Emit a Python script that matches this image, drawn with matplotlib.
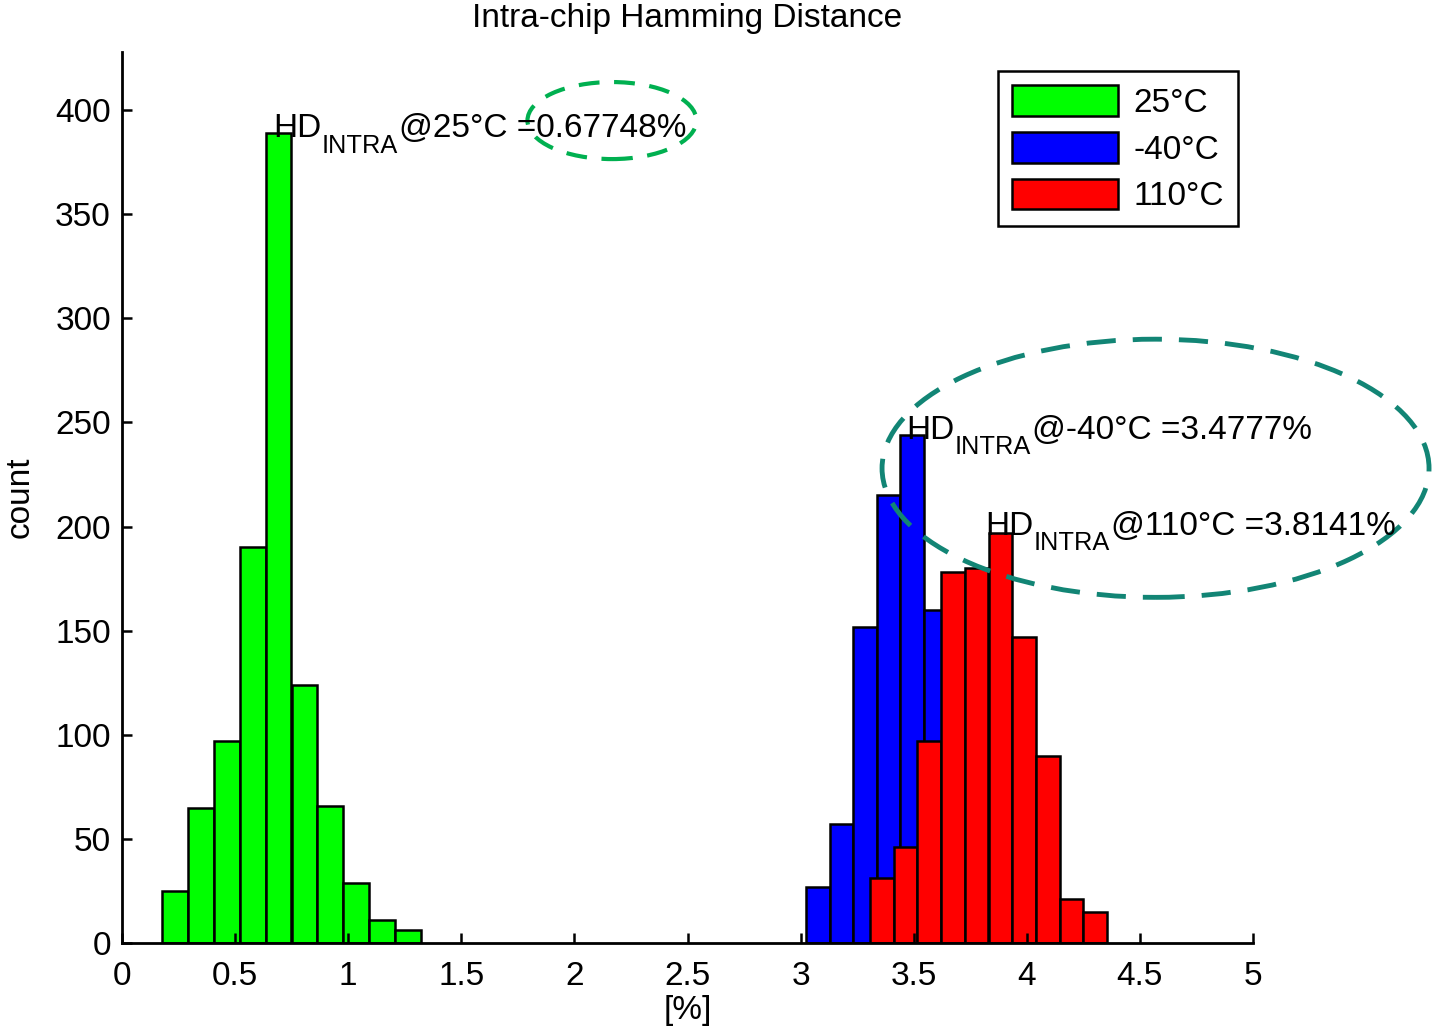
import numpy as np
import matplotlib.pyplot as plt
from matplotlib.patches import Ellipse

plt.rcParams['font.family'] = ['Liberation Sans', 'DejaVu Sans']

# histogram bins (centres in %) and counts
green_centers = [0.234, 0.349, 0.463, 0.578, 0.692, 0.807, 0.921, 1.036, 1.150, 1.265]
green_counts = [25, 65, 97, 190, 389, 124, 66, 29, 11, 6]

blue_centers = [3.076, 3.180, 3.284, 3.388, 3.492, 3.596]
blue_counts = [27, 57, 152, 215, 244, 160]

red_centers = [3.359, 3.464, 3.569, 3.674, 3.778, 3.883, 3.988, 4.093, 4.198, 4.302]
red_counts = [31, 46, 97, 178, 180, 197, 147, 90, 21, 15]

labels = ['25°C', '-40°C', '110°C']
mean_hd = [0.67748, 3.4777, 3.8141]

DPI = 100
fig = plt.figure(figsize=(14.35, 10.29), dpi=DPI)
ax = fig.add_axes([0.085, 0.0836, 0.7882, 0.866])

fs = 24
series = [(green_centers, green_counts, '#00ff00'),
          (blue_centers, blue_counts, '#0000ff'),
          (red_centers, red_counts, '#ff0000')]
for (c, n, col), lab in zip(series, labels):
    w = np.diff(c).mean()
    ax.bar(c, n, width=w, color=col, edgecolor='black', linewidth=1.8, label=lab)

ax.set_xlim(0, 5)
ax.set_ylim(0, 428)


# HD_INTRA labels: main text, bigger/lower subscript than mathtext gives
def hd_label(x, y, rest):
    r = fig.canvas.get_renderer()
    t1 = ax.text(x, y, 'HD', fontsize=fs, va='baseline', ha='left')
    w1 = t1.get_window_extent(r).width * 72 / DPI
    t2 = ax.annotate('INTRA', xy=(x, y), xytext=(w1, -11), textcoords='offset points',
                     fontsize=fs * 0.76, va='baseline', ha='left')
    w2 = t2.get_window_extent(r).width * 72 / DPI
    ax.annotate(rest, xy=(x, y), xytext=(w1 + w2 + 1, 0), textcoords='offset points',
                fontsize=fs, va='baseline', ha='left')


txt_pos = [(0.668, 387), (3.466, 242), (3.815, 196)]
for (x, y), lab, m in zip(txt_pos, labels, mean_hd):
    hd_label(x, y, '@' + lab + ' =' + f'{m:g}%')

ax.add_patch(Ellipse((2.166, 395), 0.747, 37, fill=False, edgecolor='#00b050',
                     linewidth=3, linestyle=(0, (5, 3.5)), clip_on=False))
ax.add_patch(Ellipse((4.569, 228), 2.418, 124, fill=False, edgecolor='#128575',
                     linewidth=3.5, linestyle=(0, (6, 3.5)), clip_on=False))

ax.set_xticks(np.arange(0, 5.01, 0.5))
ax.set_xticklabels(['0', '0.5', '1', '1.5', '2', '2.5', '3', '3.5', '4', '4.5', '5'])
ax.set_yticks(np.arange(0, 401, 50))
ax.tick_params(direction='in', length=7, width=1.8, labelsize=fs)
ax.tick_params(axis='x', pad=13)
ax.tick_params(axis='y', pad=8)
for s in ['top', 'right']:
    ax.spines[s].set_visible(False)
for s in ['left', 'bottom']:
    ax.spines[s].set_linewidth(2)

ax.set_title('Intra-chip Hamming Distance', fontsize=fs, pad=18)
ax.set_xlabel('[%]', fontsize=fs, labelpad=2)
ax.set_ylabel('count', fontsize=fs, labelpad=14)

leg = ax.legend(loc='upper right', bbox_to_anchor=(0.9867, 0.9787), fontsize=fs,
                fancybox=False, framealpha=1, edgecolor='black',
                handlelength=3.2, handleheight=1.05, labelspacing=0.39,
                handletextpad=0.45, borderpad=0.42, borderaxespad=0)
leg.get_frame().set_linewidth(1.8)

fig.savefig('out.png', dpi=DPI)
